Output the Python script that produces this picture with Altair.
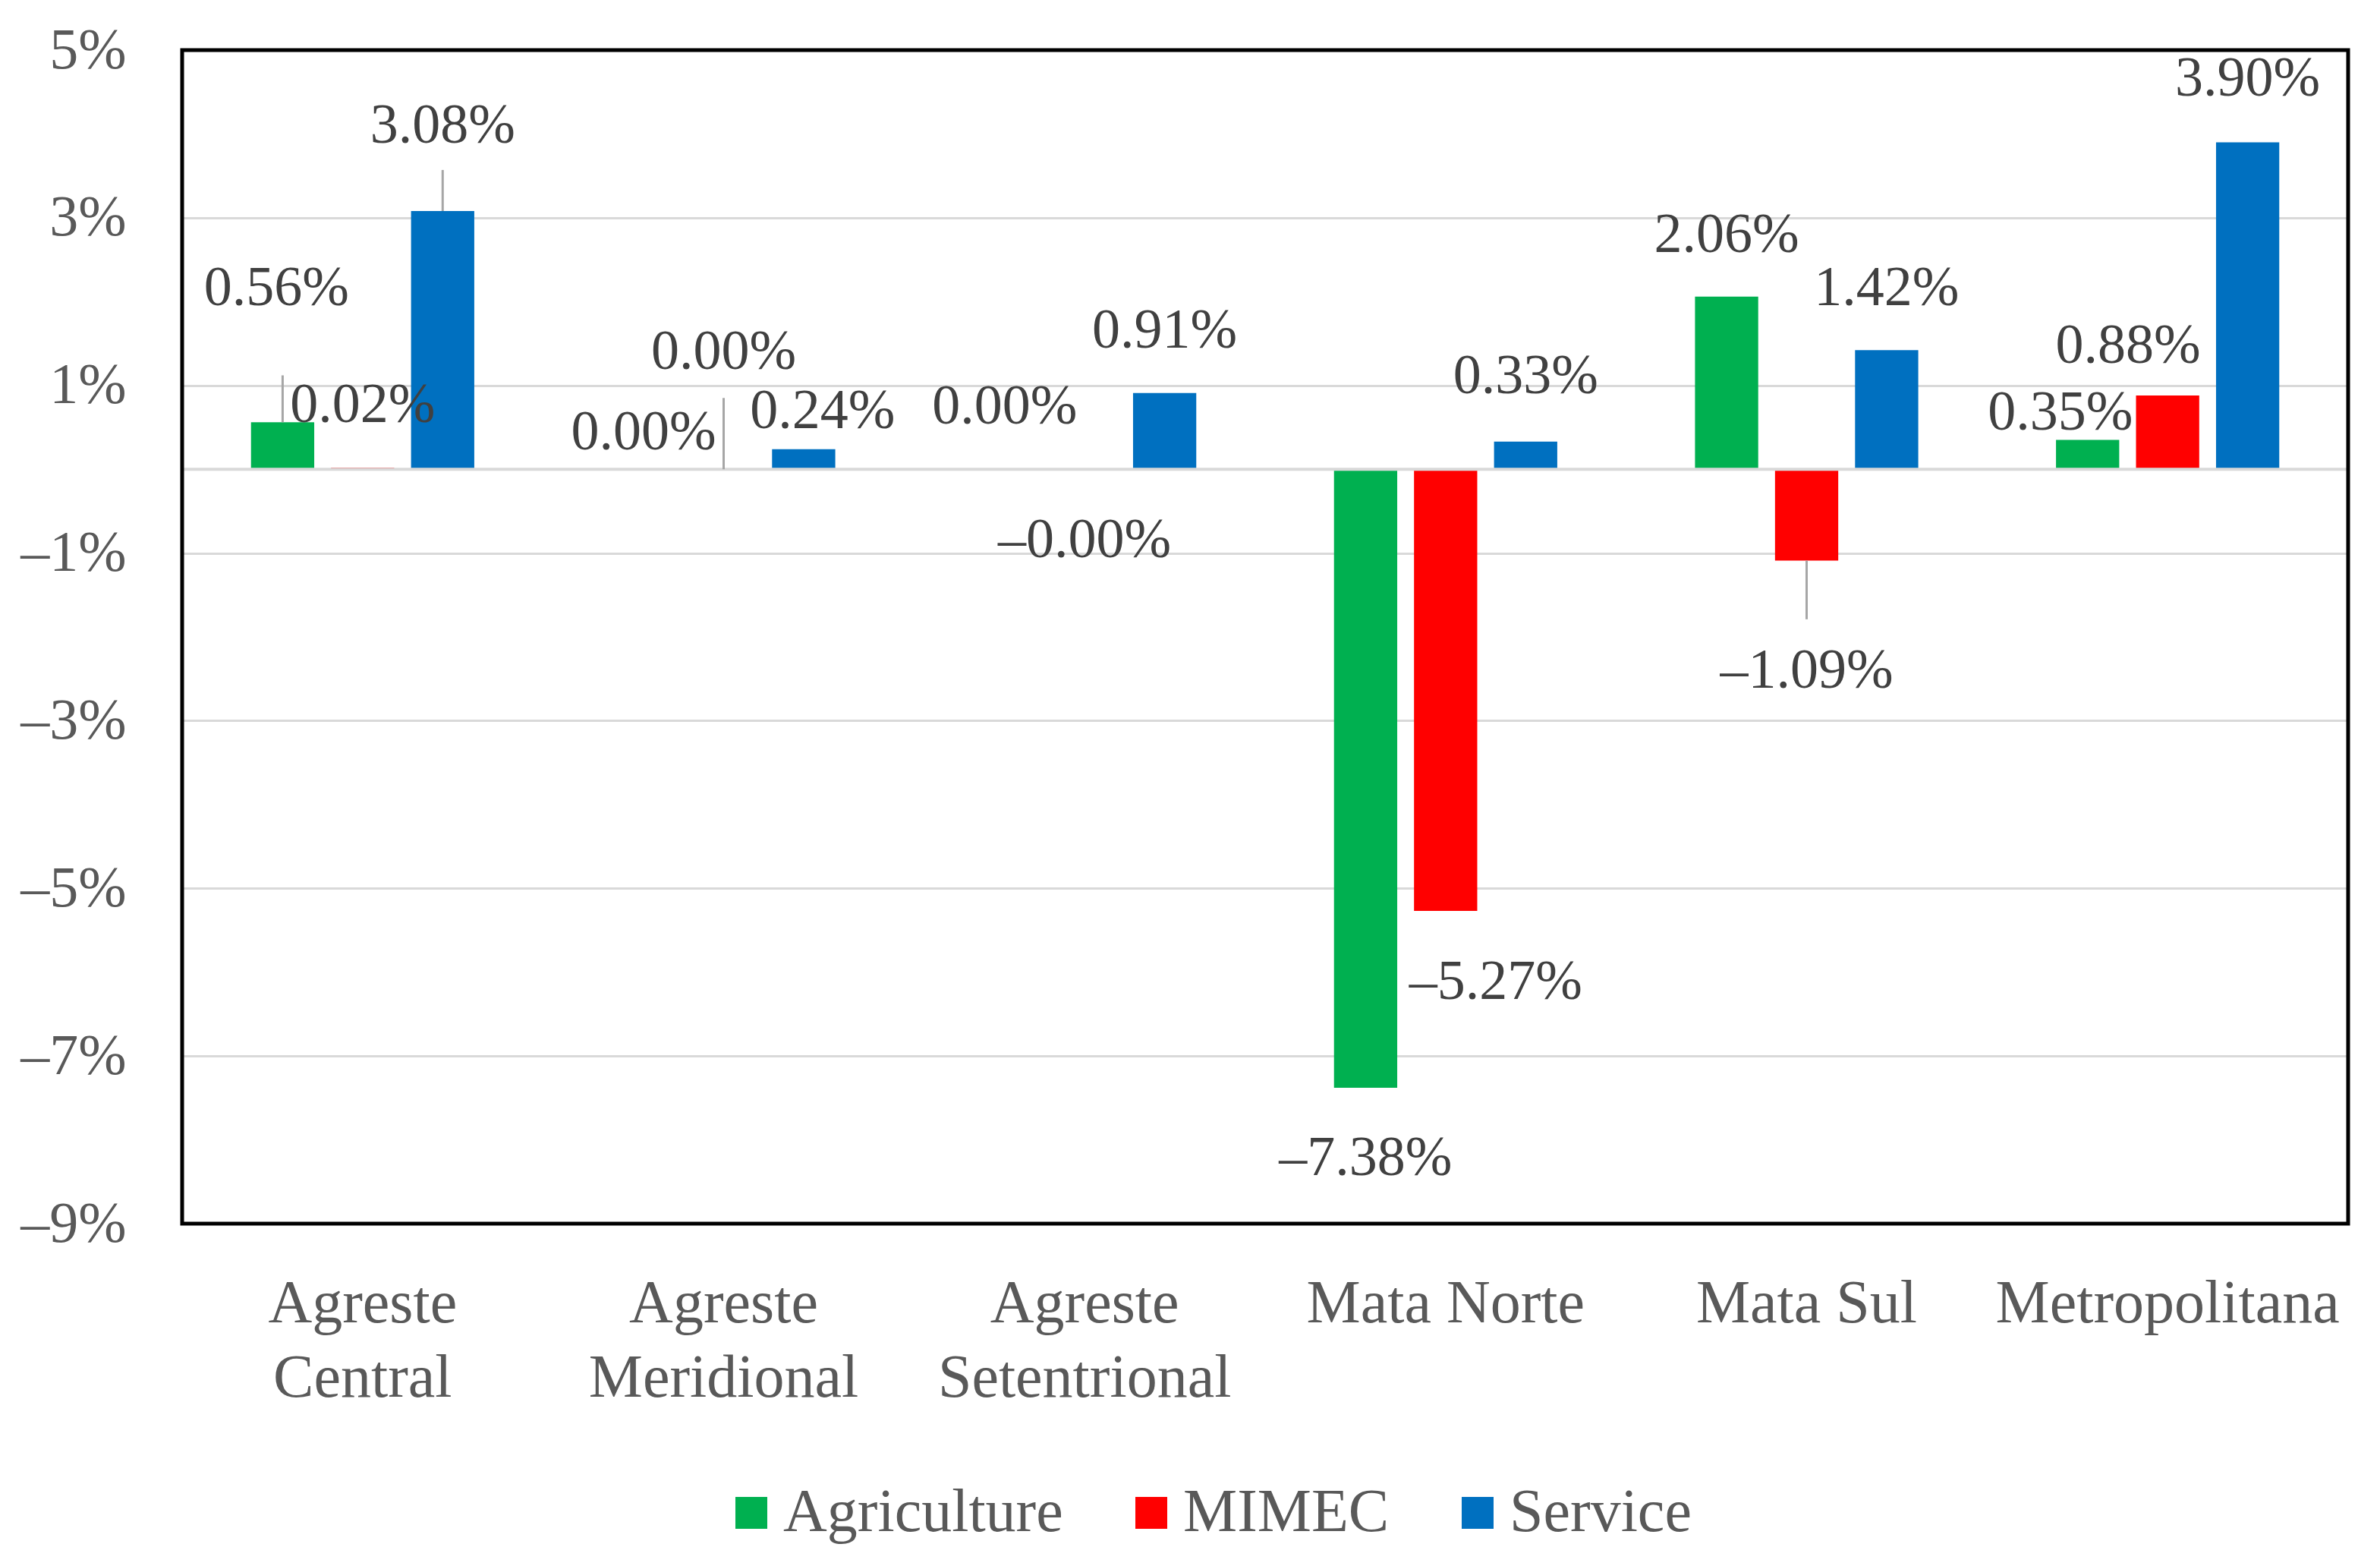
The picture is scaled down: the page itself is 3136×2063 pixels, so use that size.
import altair as alt
import pandas as pd

# ---- data ----
regions = ["Agreste Central", "Agreste Meridional", "Agreste Setentrional",
           "Mata Norte", "Mata Sul", "Metropolitana"]
sectors = ["Agriculture", "MIMEC", "Service"]
agriculture = [0.56, 0.00, 0.00, -7.38, 2.06, 0.35]
mimec = [0.02, 0.00, -0.001, -5.27, -1.09, 0.88]
service = [3.08, 0.24, 0.91, 0.33, 1.42, 3.90]
y_ticks = [5, 3, 1, -1, -3, -5, -7, -9]

# ---- label placement (as in the reference, manually placed labels) ----
label_y_agri = [2.16, 0.44, 0.74, -8.22, 2.79, 0.67]
label_y_mimec = [0.76, 1.40, -0.85, -6.12, -2.41, 1.47]
label_y_service = [4.09, 0.69, 1.65, 1.11, 2.16, 4.66]
label_dx_agri = [-8, 0, 0, 0, 0, -36]
label_dx_mimec = [0, 0, 0, 66, 0, -52]
label_dx_service = [0, 25, 0, 0, 0, 0]
# leader lines: region, sector, from, to
leader_region = ["Agreste Central", "Agreste Central", "Agreste Meridional", "Mata Sul"]
leader_sector = ["Agriculture", "Service", "MIMEC", "MIMEC"]
leader_from = [1.12, 3.57, 0.85, -1.79]
leader_to = [0.56, 3.08, 0.00, -1.09]

colors = ["#00B050", "#FF0000", "#0070C0"]
FONT = "Liberation Serif"

rows = []
for s, vals, ly, ldx in [("Agriculture", agriculture, label_y_agri, label_dx_agri),
                          ("MIMEC", mimec, label_y_mimec, label_dx_mimec),
                          ("Service", service, label_y_service, label_dx_service)]:
    for r, v, y, d in zip(regions, vals, ly, ldx):
        rows.append({"region": r, "sector": s, "value": v, "ly": y, "dx": d})
df = pd.DataFrame(rows)

lead_df = pd.DataFrame({"region": leader_region, "sector": leader_sector,
                        "y1": leader_from, "y2": leader_to})

x_enc = alt.X("region:N", sort=regions,
              scale=alt.Scale(paddingInner=0.335, paddingOuter=0.1675),
              axis=alt.Axis(title=None, domain=False, ticks=False, labelAngle=0,
                            labelFontSize=80, labelColor="#595959", labelFont=FONT,
                            labelLineHeight=98, labelPadding=66, labelBaseline="top",
                            labelLimit=0,
                            labelExpr="indexof(datum.value,'Agreste')==0 ? split(datum.value,' ') : datum.value"))
xo_enc = alt.XOffset("sector:N", sort=sectors,
                     scale=alt.Scale(paddingInner=0.21, paddingOuter=0.105))
y_scale = alt.Scale(domain=[-9, 5], nice=False, zero=False)
y_axis = alt.Axis(title=None, values=y_ticks, domain=False, ticks=False,
                  grid=True, gridColor="#D9D9D9", gridWidth=3,
                  labelFontSize=76, labelColor="#595959", labelFont=FONT,
                  labelPadding=74, labelLimit=0,
                  labelExpr="(datum.value < 0 ? '–' : '') + abs(datum.value) + '%'")

bars = alt.Chart(df).mark_bar(strokeWidth=0).encode(
    x=x_enc,
    xOffset=xo_enc,
    y=alt.Y("value:Q", scale=y_scale, axis=y_axis),
    color=alt.Color("sector:N", sort=sectors,
                    scale=alt.Scale(domain=sectors, range=colors),
                    legend=alt.Legend(title=None, orient="none", direction="horizontal",
                                      legendX=710, legendY=1887,
                                      symbolType="square", symbolSize=1764,
                                      symbolStrokeWidth=0, labelFontSize=80,
                                      labelColor="#595959", labelFont=FONT,
                                      labelLimit=0,
                                      labelOffset=2, columnPadding=76, padding=0)),
)

zero = alt.Chart(pd.DataFrame({"z": [0]})).mark_rule(color="#D9D9D9", strokeWidth=4).encode(
    y=alt.Y("z:Q", scale=y_scale, axis=y_axis)
)

leaders = alt.Chart(lead_df).mark_rule(color="#A6A6A6", strokeWidth=3).encode(
    x=x_enc,
    xOffset=xo_enc,
    y=alt.Y("y1:Q", scale=y_scale, axis=y_axis),
    y2="y2:Q",
)

frame = alt.Chart(pd.DataFrame({"a": [0]})).mark_rect(
    filled=False, stroke="black", strokeWidth=5
).encode(x=alt.value(0), x2=alt.value("width"), y=alt.value(0), y2=alt.value("height"))

text_layers = []
for d in sorted(df["dx"].unique()):
    t = alt.Chart(df).transform_filter(
        alt.datum.dx == int(d)
    ).transform_calculate(
        lab="(datum.value < 0 ? '–' : '') + format(abs(datum.value), '.2f') + '%'"
    ).mark_text(fontSize=74, color="#404040", font=FONT, dx=int(d), baseline="middle").encode(
        x=x_enc,
        xOffset=xo_enc,
        y=alt.Y("ly:Q", scale=y_scale, axis=y_axis),
        text="lab:N",
    )
    text_layers.append(t)

chart = alt.layer(bars, zero, leaders, *text_layers, frame).properties(
    width=2854, height=1546,
    autosize=alt.AutoSizeParams(type="none"),
    padding={"left": 232, "top": 58, "right": 30, "bottom": 430},
).configure(font=FONT).configure_view(stroke=None)

chart.save("out.html", embed_options={"renderer": "svg", "actions": False})
